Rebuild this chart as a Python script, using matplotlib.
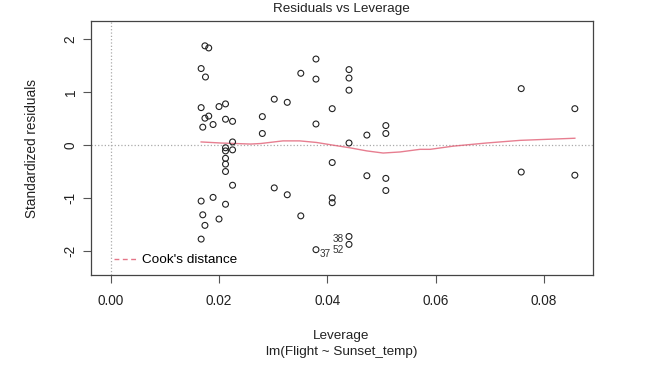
import matplotlib.pyplot as plt

plt.rcParams["font.family"] = ["Liberation Sans", "DejaVu Sans"]

# leverage / standardized residual pairs
leverage = [
    0.0174, 0.0181, 0.0167, 0.0175, 0.0167, 0.0200, 0.0212, 0.0174, 0.0181, 0.0212,
    0.0225, 0.0170, 0.0189, 0.0225, 0.0212, 0.0212, 0.0225, 0.0212, 0.0212, 0.0212,
    0.0225, 0.0189, 0.0167, 0.0212, 0.0170, 0.0200, 0.0174, 0.0167,
    0.0280, 0.0280, 0.0302, 0.0326, 0.0351, 0.0379, 0.0379, 0.0379, 0.0409, 0.0440,
    0.0440, 0.0440, 0.0440, 0.0473, 0.0508, 0.0508, 0.0409, 0.0473, 0.0508, 0.0508,
    0.0302, 0.0326, 0.0351, 0.0409, 0.0409, 0.0440, 0.0440, 0.0379,
    0.0758, 0.0857, 0.0758, 0.0857,
]
std_resid = [
    1.88, 1.84, 1.45, 1.29, 0.71, 0.73, 0.78, 0.51, 0.55, 0.49,
    0.45, 0.34, 0.39, 0.06, -0.05, -0.11, -0.09, -0.25, -0.36, -0.50,
    -0.76, -0.99, -1.06, -1.12, -1.32, -1.40, -1.52, -1.78,
    0.54, 0.22, 0.87, 0.81, 1.36, 1.63, 1.25, 0.40, 0.69, 1.43,
    1.27, 1.04, 0.04, 0.19, 0.37, 0.22, -0.33, -0.58, -0.63, -0.86,
    -0.81, -0.94, -1.34, -1.00, -1.09, -1.73, -1.88, -1.98,
    1.07, 0.69, -0.51, -0.57,
]

# smoother (red line)
smooth_x = [0.0167, 0.0203, 0.0258, 0.0277, 0.0318, 0.0349, 0.0380, 0.0410,
            0.0441, 0.0473, 0.0503, 0.0534, 0.0571, 0.0590, 0.0632, 0.0694, 0.0756, 0.0857]
smooth_y = [0.06, 0.04, 0.02, 0.03, 0.08, 0.08, 0.05, 0.00,
            -0.05, -0.11, -0.15, -0.13, -0.08, -0.08, -0.02, 0.04, 0.09, 0.13]

# labelled points
label_ids = ["38", "52", "37"]
label_x = [0.0440, 0.0440, 0.0379]
label_y = [-1.73, -1.88, -1.98]
label_side = ["left", "left", "right"]
label_dy = [-1.8, -4.0, -3.0]

red = "#DF536B"

fig = plt.figure(figsize=(6.48, 3.76), dpi=100)
ax = fig.add_axes([0.1404, 0.2686, 0.7743, 0.6755])

ax.axhline(0, color="#aaaaaa", ls=":", lw=0.9, zorder=1)
ax.axvline(0, color="#aaaaaa", ls=":", lw=0.9, zorder=1)

ax.scatter(leverage, std_resid, s=18, facecolors="none", edgecolors="#222222",
           linewidths=0.8, zorder=3)
ax.plot(smooth_x, smooth_y, color=red, lw=1.0, alpha=0.75, zorder=2)

for lab, x, y, side, dy in zip(label_ids, label_x, label_y, label_side, label_dy):
    dx = -3.5 if side == "left" else 3
    ha = "right" if side == "left" else "left"
    ax.annotate(lab, (x, y), xytext=(dx, dy), textcoords="offset points",
                ha=ha, va="center", fontsize=7.2, color="#333333")

ax.set_xlim(-0.00364, 0.089)
ax.set_ylim(-2.46, 2.35)
ax.set_xticks([0.00, 0.02, 0.04, 0.06, 0.08])
ax.set_xticklabels(["0.00", "0.02", "0.04", "0.06", "0.08"])
ax.set_yticks([-2, -1, 0, 1, 2])
ax.set_yticklabels(["-2", "-1", "0", "1", "2"], rotation=90, va="center")
ax.tick_params(axis="both", length=5.5, width=0.8, color="#555555",
               labelsize=9.8, labelcolor="#222222")
ax.tick_params(axis="x", pad=8)
ax.tick_params(axis="y", pad=4)

for sp in ax.spines.values():
    sp.set_color("#444444")
    sp.set_linewidth(0.9)

ax.set_ylabel("Standardized residuals", fontsize=9.8, color="#222222", va="center")
ax.yaxis.set_label_coords(-0.118, 0.5)

fig.text(0.527, 1 - 8.7 / 376, "Residuals vs Leverage", ha="center", va="center",
         fontsize=9.7, color="#222222")
fig.text(0.527, 1 - 335.7 / 376, "Leverage", ha="center", va="center",
         fontsize=9.7, color="#222222")
fig.text(0.527, 1 - 351.7 / 376, "lm(Flight ~ Sunset_temp)", ha="center", va="center",
         fontsize=9.7, color="#222222")

ax.plot([], [], color=red, dashes=(3.5, 2.5), lw=1.0, alpha=0.8, label="Cook's distance")
ax.legend(loc="center left", bbox_to_anchor=(0.0458, 0.059), frameon=False,
          fontsize=9.7, handlelength=1.8, borderaxespad=0, borderpad=0,
          handletextpad=0.25)

fig.savefig("out.png", dpi=100)
